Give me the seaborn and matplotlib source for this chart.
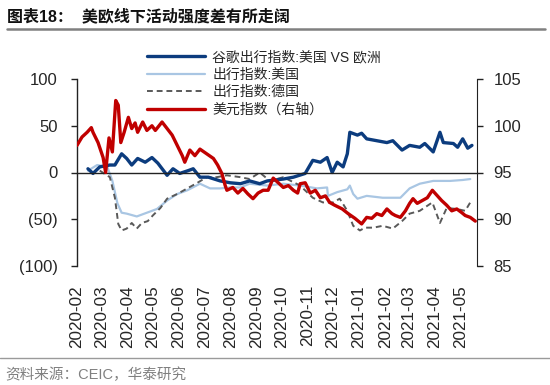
import pandas as pd
import numpy as np
import matplotlib
matplotlib.use("Agg")
import matplotlib.pyplot as plt
import matplotlib.dates as mdates
from matplotlib.ticker import FuncFormatter
import seaborn as sns

# values
google_dates = ["2020-02-14", "2020-02-20", "2020-02-28", "2020-03-11", "2020-03-17", "2020-03-25",
                "2020-03-31", "2020-04-06", "2020-04-13", "2020-04-22", "2020-04-30", "2020-05-07",
                "2020-05-18", "2020-05-25", "2020-06-02", "2020-06-12", "2020-06-18", "2020-06-26",
                "2020-07-06", "2020-07-20", "2020-08-01", "2020-08-13", "2020-08-24", "2020-09-05",
                "2020-09-14", "2020-10-03", "2020-10-15", "2020-10-29", "2020-11-07", "2020-11-16",
                "2020-11-24", "2020-11-30", "2020-12-06", "2020-12-13", "2020-12-18", "2020-12-21",
                "2020-12-30", "2021-01-04", "2021-01-10", "2021-01-22", "2021-02-03", "2021-02-10",
                "2021-02-21", "2021-03-02", "2021-03-14", "2021-03-20", "2021-03-30", "2021-04-07",
                "2021-04-11", "2021-04-23", "2021-04-28", "2021-05-04", "2021-05-10", "2021-05-15"]
google_gap = [4, -1, 6, 8, 8, 20, 15, 8, 15, 11, 16, 10, -3, 4, -1, 2, 4, -5, -5, -9, -11, -12, -9, -12,
              -9, -7, -5, -1, 13, 11, 16, 0, 11, 6, 20, 43, 40, 42, 36, 34, 32, 34, 24, 29, 27, 31,
              22, 43, 32, 31, 27, 36, 26, 29]

us_dates = ["2020-02-14", "2020-02-25", "2020-03-08", "2020-03-14", "2020-03-20", "2020-03-25",
            "2020-03-31", "2020-04-12", "2020-04-24", "2020-05-06", "2020-05-18", "2020-05-30",
            "2020-06-11", "2020-06-26", "2020-07-08", "2020-07-20", "2020-08-01", "2020-08-13",
            "2020-08-24", "2020-09-14", "2020-10-03", "2020-10-23", "2020-11-12", "2020-11-24",
            "2020-11-25", "2020-12-06", "2020-12-18", "2020-12-21", "2020-12-25", "2020-12-30",
            "2021-01-10", "2021-01-29", "2021-02-19", "2021-03-02", "2021-03-14", "2021-03-30",
            "2021-04-19", "2021-05-04", "2021-05-13"]
us_mobility = [2, 8, 6, -9, -33, -43, -44, -47, -43, -39, -30, -23, -19, -12, -17, -17, -16, -16,
               -12, -14, -12, -14, -17, -16, -25, -21, -18, -14, -23, -28, -25, -27, -27, -17, -12,
               -9, -9, -8, -7]

de_dates = ["2020-02-28", "2020-03-11", "2020-03-17", "2020-03-21", "2020-03-25", "2020-03-31",
            "2020-04-06", "2020-04-12", "2020-04-18", "2020-04-25", "2020-05-01", "2020-05-10",
            "2020-05-18", "2020-05-30", "2020-06-11", "2020-06-23", "2020-07-04", "2020-07-16",
            "2020-07-28", "2020-08-13", "2020-08-24", "2020-09-05", "2020-09-17", "2020-10-03",
            "2020-10-23", "2020-11-07", "2020-11-19", "2020-12-01", "2020-12-09", "2020-12-18",
            "2020-12-25", "2021-01-02", "2021-01-08", "2021-01-18", "2021-01-29", "2021-02-10",
            "2021-02-21", "2021-03-02", "2021-03-14", "2021-03-29", "2021-04-07", "2021-04-15",
            "2021-04-27", "2021-05-07", "2021-05-13"]
de_mobility = [2, -5, -27, -55, -62, -60, -54, -60, -54, -52, -46, -38, -28, -23, -17, -11, -5, -5,
               -3, -5, -7, 0, -9, -5, -14, -27, -32, -32, -28, -41, -57, -62, -59, -59, -57, -60,
               -52, -44, -41, -32, -54, -38, -39, -41, -32]

dxy_dates = ["2020-02-01", "2020-02-07", "2020-02-13", "2020-02-18", "2020-02-20", "2020-02-26",
             "2020-03-03", "2020-03-06", "2020-03-10", "2020-03-14", "2020-03-18", "2020-03-21",
             "2020-03-24", "2020-03-28", "2020-04-02", "2020-04-06", "2020-04-10", "2020-04-13",
             "2020-04-19", "2020-04-24", "2020-04-30", "2020-05-04", "2020-05-12", "2020-05-18",
             "2020-05-24", "2020-05-30", "2020-06-05", "2020-06-08", "2020-06-14", "2020-06-20",
             "2020-06-26", "2020-07-04", "2020-07-12", "2020-07-17", "2020-07-22", "2020-07-26",
             "2020-07-28", "2020-08-04", "2020-08-10", "2020-08-16", "2020-08-22", "2020-08-28",
             "2020-09-03", "2020-09-09", "2020-09-15", "2020-09-21", "2020-09-27", "2020-10-03",
             "2020-10-09", "2020-10-15", "2020-10-20", "2020-10-23", "2020-10-29", "2020-11-04",
             "2020-11-10", "2020-11-16", "2020-11-22", "2020-11-27", "2020-12-03", "2020-12-12",
             "2020-12-19", "2020-12-27", "2021-01-04", "2021-01-10", "2021-01-16", "2021-01-22",
             "2021-01-28", "2021-02-03", "2021-02-09", "2021-02-13", "2021-02-19", "2021-02-25",
             "2021-03-02", "2021-03-06", "2021-03-11", "2021-03-17", "2021-03-23", "2021-03-29",
             "2021-04-04", "2021-04-09", "2021-04-15", "2021-04-21", "2021-04-27", "2021-05-03",
             "2021-05-07", "2021-05-13", "2021-05-19"]
dxy = [97.9, 98.8, 99.3, 99.8, 99.3, 98.2, 96.6, 95.0, 98.7, 97.2, 102.7, 102.2,
       98.2, 99.3, 100.9, 99.7, 100.3, 99.3, 100.4, 99.5, 100.0, 99.5, 100.4, 99.7,
       99.0, 97.9, 96.8, 96.1, 97.4, 96.8, 97.5, 97.0, 96.5, 95.8, 94.9, 93.6,
       93.1, 93.4, 92.8, 93.3, 92.7, 92.2, 92.8, 93.1, 93.1, 94.4, 93.9, 93.4,
       93.6, 93.1, 92.8, 93.8, 93.9, 92.8, 93.1, 92.3, 92.5, 91.8, 91.5, 91.1,
       90.6, 90.1, 89.5, 90.2, 90.1, 90.6, 90.4, 91.1, 90.6, 90.4, 90.2, 90.9,
       91.7, 92.2, 91.7, 92.0, 92.3, 93.1, 92.5, 92.0, 91.5, 90.9, 91.1, 90.7,
       90.4, 90.2, 89.8]

labels = ["谷歌出行指数:美国 VS 欧洲", "出行指数:美国", "出行指数:德国", "美元指数（右轴）"]

sns.set_style("white")
plt.rcParams["font.family"] = ["Liberation Sans", "Noto Sans CJK SC"]
plt.rcParams["axes.unicode_minus"] = False

fig = plt.figure(figsize=(5.5, 3.85), dpi=100)
ax = fig.add_axes([77 / 550, 1 - 266 / 385, 400 / 550, 187 / 385])
ax2 = ax.twinx()

df_g = pd.DataFrame({"date": pd.to_datetime(google_dates), "v": google_gap})
df_us = pd.DataFrame({"date": pd.to_datetime(us_dates), "v": us_mobility})
df_de = pd.DataFrame({"date": pd.to_datetime(de_dates), "v": de_mobility})
df_dxy = pd.DataFrame({"date": pd.to_datetime(dxy_dates), "v": dxy})

sns.lineplot(data=df_us, x="date", y="v", ax=ax, color="#a9c6e3", lw=1.6, label=labels[1], legend=False)
sns.lineplot(data=df_de, x="date", y="v", ax=ax, color="#595959", lw=1.4, ls=(0, (3, 2)),
             label=labels[2], legend=False)
sns.lineplot(data=df_g, x="date", y="v", ax=ax, color="#0c3c7e", lw=2.4, label=labels[0], legend=False)
sns.lineplot(data=df_dxy, x="date", y="v", ax=ax2, color="#c00000", lw=2.4, label=labels[3], legend=False)

ax.set_xlim(pd.Timestamp("2020-02-01"), pd.Timestamp("2021-05-21"))
ax.set_ylim(-100, 100)
ax2.set_ylim(85, 105)
ax.set_yticks([100, 50, 0, -50, -100])
ax2.set_yticks([105, 100, 95, 90, 85])
ax.yaxis.set_major_formatter(FuncFormatter(lambda v, p: f"({abs(int(v))})" if v < 0 else f"{int(v)}"))
ax.set_xlabel("")
ax.set_ylabel("")
ax2.set_ylabel("")

ax.xaxis.set_major_locator(mdates.MonthLocator())
ax.xaxis.set_major_formatter(mdates.DateFormatter("%Y-%m"))

ax.spines["bottom"].set_position(("data", 0))
for a in (ax, ax2):
    a.spines["top"].set_visible(False)
    a.spines["bottom"].set_visible(a is ax)
ax.spines["right"].set_visible(False)
ax2.spines["left"].set_visible(False)
for s in ("left", "bottom"):
    ax.spines[s].set_color("#222222")
    ax.spines[s].set_linewidth(1.0)
ax2.spines["right"].set_color("#222222")

ax.tick_params(axis="x", direction="out", length=4, width=1, color="#222222", pad=77, labelsize=12.3,
               labelrotation=90)
ax.tick_params(axis="y", direction="out", length=4, width=1, color="#222222", pad=10, labelsize=12)
ax2.tick_params(axis="y", direction="out", length=4, width=1, color="#222222", pad=8, labelsize=12)
ax2.tick_params(axis="x", bottom=False, labelbottom=False)

h1, l1 = ax.get_legend_handles_labels()
h2, l2 = ax2.get_legend_handles_labels()
handles = dict(zip(l1 + l2, h1 + h2))
fig.legend([handles[l] for l in labels], labels, loc="upper left", bbox_to_anchor=(140 / 550, 1 - 43 / 385),
           frameon=False, fontsize=10, handlelength=4.2, handletextpad=0.5, labelspacing=0.25,
           borderpad=0)

# header and footer
fig.text(7 / 550, 1 - 16 / 385, "图表18：  美欧线下活动强度差有所走阔", fontsize=11.5, fontweight="bold",
         va="center", ha="left", color="#111111")
fig.add_artist(plt.Line2D([7 / 550, 545 / 550], [1 - 29 / 385] * 2, color="#808080", lw=1.8))
fig.add_artist(plt.Line2D([0, 1], [1 - 358 / 385] * 2, color="#9a9a9a", lw=1.0))
fig.text(5 / 550, 1 - 375 / 385, "资料来源：CEIC，华泰研究", fontsize=10.5, va="center", ha="left",
         color="#808080")

plt.savefig("out.png", dpi=100)
